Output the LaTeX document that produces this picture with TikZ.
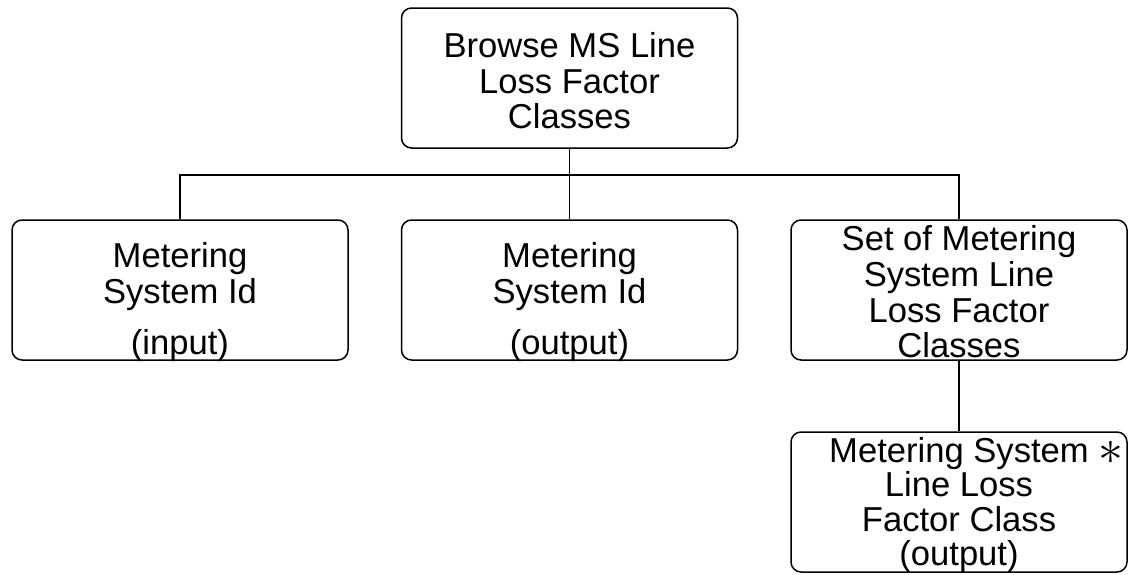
\documentclass[tikz,border=0pt]{standalone}
\usepackage{fontspec}
\setmainfont{Liberation Sans}
\usetikzlibrary{positioning,calc}
\tikzset{
  box/.style={draw=black,fill=white,line width=0.75pt,rounded corners=5pt,
              minimum width=168pt,minimum height=70pt,inner sep=0pt},
  boxtext/.style={align=center,inner sep=0pt,
                  font=\fontsize{17.3}{17.8}\selectfont},
  link/.style={draw=black,line width=0.75pt}
}

\begin{document}
\begin{tikzpicture}[x=0.5pt,y=-0.5pt]
    \path[use as bounding box] (0,0) rectangle (1136,574);
    % boxes
    \node[box] (browse) at (569.5,78) {};
    \node[box] (msin) at (180,290) {};
    \node[box] (msout) at (569.5,290) {};
    \node[box] (msset) at (959,290) {};
    \node[box] (msclass) at (959,502) {};

    % texts
    \node[boxtext] (browsetxt) at (569.5,81)
      {Browse MS Line\\Loss Factor\\Classes};
    \node[boxtext] (msintxt) at (180,302)
      {Metering\\System Id\\[7.5pt](input)};
    \node[boxtext] (msouttxt) at (569.5,302)
      {Metering\\System Id\\[7.5pt](output)};
    \node[boxtext] (mssettxt) at (959,292)
      {Set of Metering\\System Line\\Loss Factor\\Classes};
    \node[boxtext,font=\fontsize{17.3}{17.2}\selectfont] (msclasstxt)
      at (959,505) {Metering System\\Line Loss\\Factor Class\\(output)};
    \node[inner sep=0pt,font=\fontsize{24}{24}\selectfont] (iter)
      at (1111,453) {$\ast$};

    % connectors
    \coordinate (bus) at (569.5,175);
    \draw[link] (browse.south) -- (bus);
    \draw[link] (msin.north) |- (bus) -| (msset.north);
    \draw[link] (bus) -- (msout.north);
    \draw[link] (msset.south) -- (msclass.north);
  \end{tikzpicture}
\end{document}
